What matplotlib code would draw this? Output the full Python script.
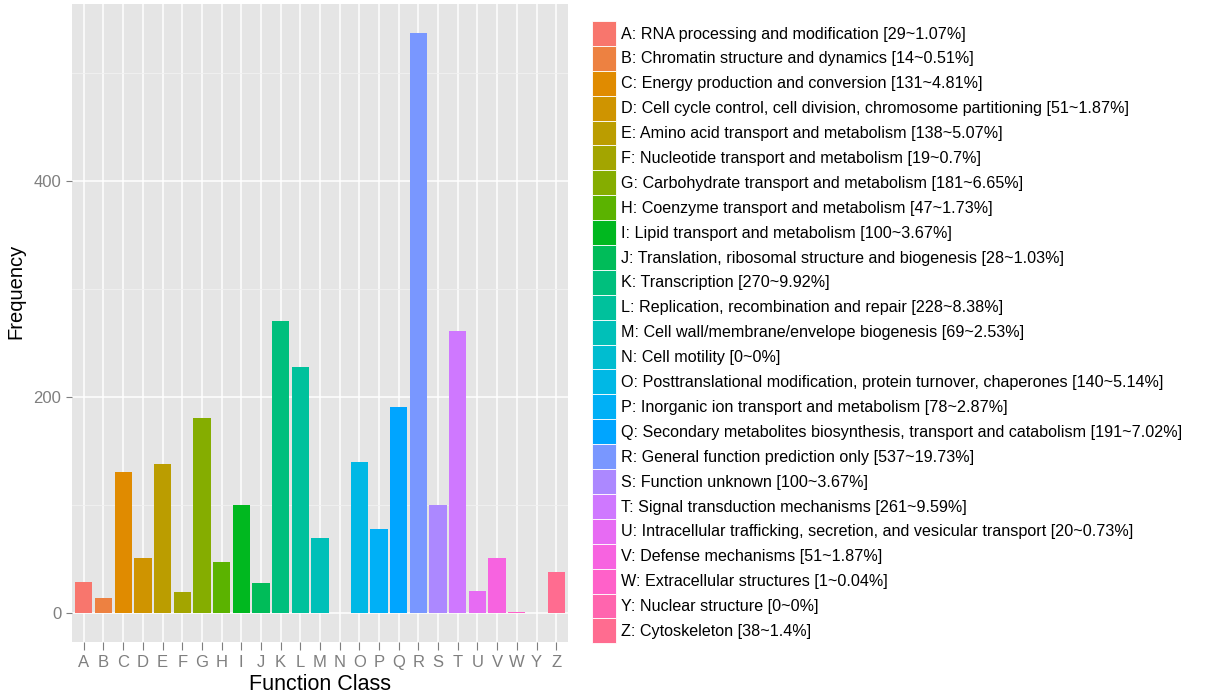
import matplotlib
matplotlib.use('Agg')
import matplotlib.pyplot as plt
from matplotlib.patches import Patch
import numpy as np

classes = list('ABCDEFGHIJKLMNOPQRSTUVWYZ')
counts = [29, 14, 131, 51, 138, 19, 181, 47, 100, 28, 270, 228, 69, 0,
          140, 78, 191, 537, 100, 261, 20, 51, 1, 0, 38]
names = ['RNA processing and modification',
         'Chromatin structure and dynamics',
         'Energy production and conversion',
         'Cell cycle control, cell division, chromosome partitioning',
         'Amino acid transport and metabolism',
         'Nucleotide transport and metabolism',
         'Carbohydrate transport and metabolism',
         'Coenzyme transport and metabolism',
         'Lipid transport and metabolism',
         'Translation, ribosomal structure and biogenesis',
         'Transcription',
         'Replication, recombination and repair',
         'Cell wall/membrane/envelope biogenesis',
         'Cell motility',
         'Posttranslational modification, protein turnover, chaperones',
         'Inorganic ion transport and metabolism',
         'Secondary metabolites biosynthesis, transport and catabolism',
         'General function prediction only',
         'Function unknown',
         'Signal transduction mechanisms',
         'Intracellular trafficking, secretion, and vesicular transport',
         'Defense mechanisms',
         'Extracellular structures',
         'Nuclear structure',
         'Cytoskeleton']
percents = ['1.07', '0.51', '4.81', '1.87', '5.07', '0.7', '6.65', '1.73', '3.67',
            '1.03', '9.92', '8.38', '2.53', '0', '5.14', '2.87', '7.02', '19.73',
            '3.67', '9.59', '0.73', '1.87', '0.04', '0', '1.4']


def hcl_to_hex(h, c=100, l=65):
    # polar LUV -> sRGB, like R's hcl()
    xn, yn, zn = 95.047, 100.0, 108.883
    y = yn * ((l + 16) / 116) ** 3
    u = c * np.cos(np.radians(h))
    v = c * np.sin(np.radians(h))
    un = 4 * xn / (xn + 15 * yn + 3 * zn)
    vn = 9 * yn / (xn + 15 * yn + 3 * zn)
    up = u / (13 * l) + un
    vp = v / (13 * l) + vn
    x = 9 * y * up / (4 * vp)
    z = -x / 3 - 5 * y + 3 * y / vp
    m = np.array([[3.240479, -1.537150, -0.498535],
                  [-0.969256, 1.875992, 0.041556],
                  [0.055648, -0.204043, 1.057311]])
    rgb = m @ (np.array([x, y, z]) / 100)
    rgb = np.where(rgb > 0.00304, 1.055 * np.abs(rgb) ** (1 / 2.4) - 0.055, 12.92 * rgb)
    rgb = np.clip(rgb, 0, 1)
    return matplotlib.colors.to_hex(rgb)


n = len(classes)
colors = [hcl_to_hex(15 + 360 / n * i) for i in range(n)]

plt.rcParams['font.family'] = ['Liberation Sans', 'DejaVu Sans']

fig = plt.figure(figsize=(12.19, 6.94), dpi=100)
ax = fig.add_axes([72 / 1219, 1 - 642 / 694, 496 / 1219, 638 / 694])
ax.set_facecolor('#E5E5E5')

x = np.arange(n)
ax.bar(x, counts, width=0.88, color=colors, zorder=3)

ax.set_xlim(-0.6, n - 0.4)
ax.set_ylim(-26.85, 563.85)
ax.set_xticks(x)
ax.set_xticklabels(classes)
ax.set_yticks([0, 200, 400])
ax.set_yticks([100, 300, 500], minor=True)
ax.grid(which='major', color='white', linewidth=1.1, zorder=1)
ax.grid(which='minor', axis='y', color='#F2F2F2', linewidth=0.6, zorder=1)
ax.tick_params(which='major', colors='#7F7F7F', labelsize=12, length=4.6, width=0.8, pad=3)
ax.tick_params(axis='x', which='major', length=5.5, pad=4)
ax.tick_params(which='minor', length=0)
for s in ax.spines.values():
    s.set_visible(False)

ax.set_xlabel('Function Class', fontsize=15.5, labelpad=3)
ax.set_ylabel('Frequency', fontsize=14.5)
ax.yaxis.set_label_coords(-0.095, 0.55)

handles = [Patch(facecolor=colors[i], edgecolor='white', linewidth=0.6,
                 label='%s: %s [%d~%s%%]' % (classes[i], names[i], counts[i], percents[i]))
           for i in range(n)]
fig.legend(handles=handles, loc='upper left', bbox_to_anchor=(592 / 1219, 1 - 21 / 694),
           frameon=False, fontsize=11.6, handlelength=1.49, handleheight=2.0,
           labelspacing=0, handletextpad=0.31, borderpad=0, borderaxespad=0)

fig.savefig('out.png', dpi=100)
